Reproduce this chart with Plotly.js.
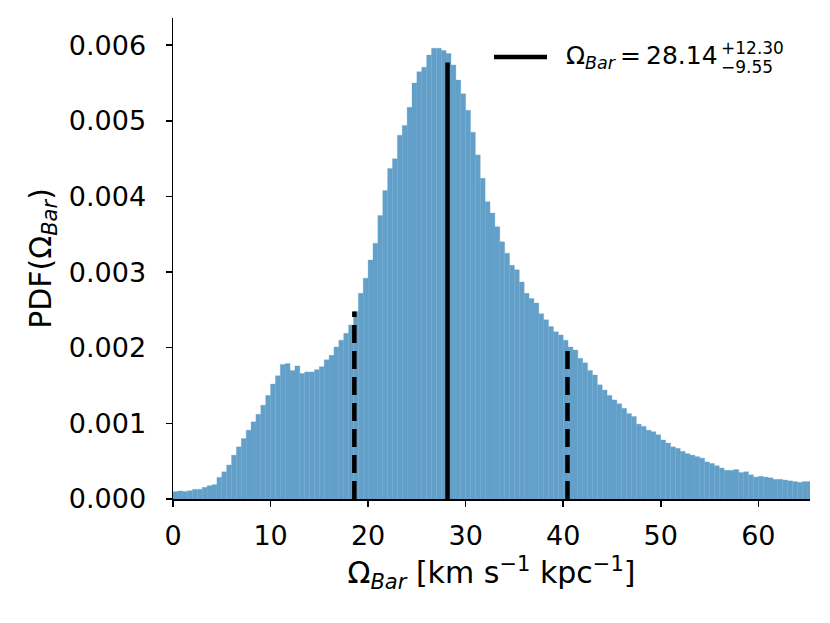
<!DOCTYPE html>
<html>
<head>
<meta charset="utf-8">
<script src="https://cdn.plot.ly/plotly-3.0.1.min.js"></script>
<style>html,body{margin:0;padding:0;background:#fff}#chart{width:830px;height:623px}</style>
</head>
<body>
<div id="chart"></div>
<script>
// Histogram: bins of width 0.5 starting at 0, PDF values
const binStart = 0;
const binWidth = 0.5;
const pdfValues = [
  0.000097,0.000106,0.000100,0.000110,0.000128,0.000128,0.000154,0.000176,0.000190,0.000286,
  0.000360,0.000450,0.000580,0.000690,0.000800,0.000910,0.001020,0.001120,0.001240,0.001370,
  0.001520,0.001630,0.001780,0.001790,0.001700,0.001760,0.001660,0.001680,0.001680,0.001710,
  0.001750,0.001840,0.001900,0.002010,0.002100,0.002190,0.002300,0.002480,0.002720,0.002920,
  0.003160,0.003380,0.003750,0.004080,0.004370,0.004500,0.004810,0.004940,0.005180,0.005500,
  0.005650,0.005710,0.005870,0.005960,0.005960,0.005930,0.005890,0.005740,0.005540,0.005360,
  0.005140,0.004850,0.004550,0.004240,0.003930,0.003780,0.003600,0.003400,0.003250,0.003090,
  0.003030,0.002870,0.002720,0.002650,0.002590,0.002450,0.002370,0.002280,0.002210,0.002170,
  0.002100,0.002010,0.001970,0.001860,0.001800,0.001700,0.001640,0.001510,0.001440,0.001370,
  0.001310,0.001260,0.001200,0.001130,0.001090,0.000990,0.000960,0.000910,0.000890,0.000850,
  0.000780,0.000740,0.000690,0.000670,0.000630,0.000600,0.000580,0.000560,0.000540,0.000490,
  0.000470,0.000440,0.000410,0.000380,0.000380,0.000390,0.000350,0.000360,0.000320,0.000290,
  0.000300,0.000290,0.000280,0.000260,0.000260,0.000250,0.000240,0.000230,0.000220,0.000230,
  0.000230
];
// Summary statistics (median and 16th/84th percentile lines)
const median = 28.14;
const errPlus = 12.30;
const errMinus = 9.55;
const lineX = [median - errMinus, median, median + errPlus];
const lineTop = [0.00248, 0.00577, 0.00202];
const lineDash = ['18px,8px', 'solid', '18px,8px'];
const xTicks = [0, 10, 20, 30, 40, 50, 60];
const yTicks = [0, 0.001, 0.002, 0.003, 0.004, 0.005, 0.006];

const binCenters = pdfValues.map((_, i) => binStart + binWidth * (i + 0.5));
const barColor = 'rgb(98,160,202)';

const traces = [{
  type: 'bar', x: binCenters, y: pdfValues, width: binWidth,
  marker: {color: barColor, line: {width: 0.3, color: barColor}},
  hoverinfo: 'skip', showlegend: false
}];
lineX.forEach((xv, i) => {
  traces.push({
    type: 'scatter', mode: 'lines', x: [xv, xv], y: [0, lineTop[i]],
    line: {color: 'black', width: 4.5, dash: lineDash[i]},
    showlegend: false, hoverinfo: 'skip'
  });
});

const L = 173, R = 810, T = 18, B = 499;
const px = v => (v - L) / (R - L);
const py = v => (B - v) / (B - T);
const font = {family: 'DejaVu Sans, sans-serif', color: 'black'};

const layout = {
  width: 830, height: 623,
  margin: {l: L, r: 830 - R, t: T, b: 623 - B, pad: 0},
  paper_bgcolor: 'white', plot_bgcolor: 'white',
  bargap: 0,
  font: Object.assign({size: 27}, font),
  xaxis: {
    range: [0, 65.3], tickvals: xTicks, ticktext: xTicks.map(String),
    showgrid: false, zeroline: false, showline: true, linecolor: 'black', linewidth: 1.5,
    ticks: 'outside', ticklen: 6, tickwidth: 1.5, tickcolor: 'black',
    tickfont: Object.assign({size: 27}, font), ticklabelstandoff: 6,
    title: {text: 'Ω<sub><i>Bar</i></sub> [km s<sup>−1</sup> kpc<sup>−1</sup>]', font: Object.assign({size: 30}, font), standoff: 12}
  },
  yaxis: {
    range: [0, 0.00636], tickvals: yTicks, ticktext: yTicks.map(v => v.toFixed(3)),
    showgrid: false, zeroline: false, showline: true, linecolor: 'black', linewidth: 1.5,
    ticks: 'outside', ticklen: 6, tickwidth: 1.5, tickcolor: 'black',
    tickfont: Object.assign({size: 27}, font), ticklabelstandoff: 14,
    title: {text: 'PDF(Ω<sub><i>Bar</i></sub>)', font: Object.assign({size: 30}, font), standoff: 8}
  },
  shapes: [{
    type: 'line', xref: 'paper', yref: 'paper',
    x0: px(494), x1: px(547), y0: py(57), y1: py(57),
    line: {color: 'black', width: 4.5}
  }],
  annotations: [
    {xref: 'paper', yref: 'paper', x: px(564), y: py(57), xanchor: 'left', yanchor: 'middle',
     text: 'Ω<sub><i>Bar</i></sub>\u2009=\u200928.14', showarrow: false, font: Object.assign({size: 25}, font)},
    {xref: 'paper', yref: 'paper', x: px(719), y: py(48), xanchor: 'left', yanchor: 'middle',
     text: '+' + errPlus.toFixed(2), showarrow: false, font: Object.assign({size: 17}, font)},
    {xref: 'paper', yref: 'paper', x: px(719), y: py(67), xanchor: 'left', yanchor: 'middle',
     text: '−' + errMinus.toFixed(2), showarrow: false, font: Object.assign({size: 17}, font)}
  ]
};

Plotly.newPlot('chart', traces, layout, {displayModeBar: false, staticPlot: true});
</script>
</body>
</html>
